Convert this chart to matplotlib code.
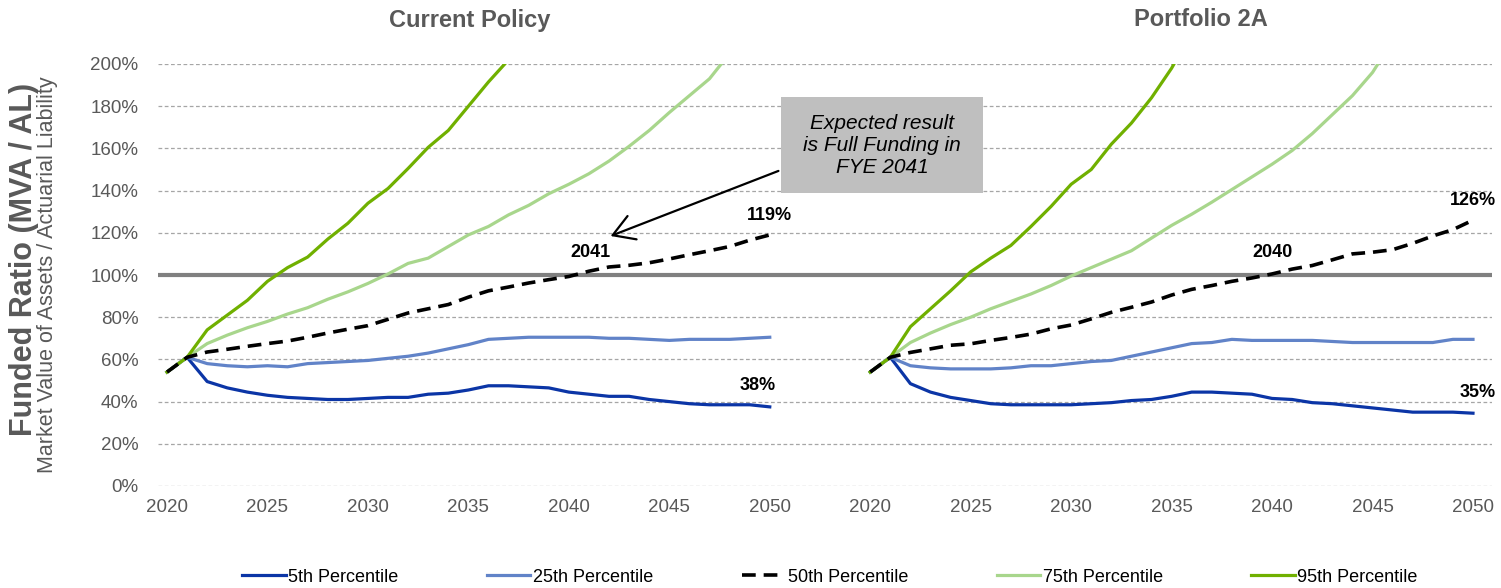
import matplotlib
matplotlib.use("Agg")
import matplotlib.pyplot as plt
from matplotlib.patches import Rectangle

plt.rcParams["font.family"] = ["Liberation Sans", "DejaVu Sans"]

# --- data (funded ratio, %) ---
years = list(range(2020, 2051))
panel_titles = ["Current Policy", "Portfolio 2A"]

cur_p5 = [54, 61, 49.5, 46.5, 44.5, 43, 42, 41.5, 41, 41, 41.5, 42, 42, 43.5, 44, 45.5,
          47.5, 47.5, 47, 46.5, 44.5, 43.5, 42.5, 42.5, 41, 40, 39, 38.5, 38.5, 38.5, 37.5]
cur_p25 = [54, 61, 58, 57, 56.5, 57, 56.5, 58, 58.5, 59, 59.5, 60.5, 61.5, 63, 65, 67,
           69.5, 70, 70.5, 70.5, 70.5, 70.5, 70, 70, 69.5, 69, 69.5, 69.5, 69.5, 70, 70.5]
cur_p50 = [54, 61, 63.5, 64.8, 66.2, 67.5, 68.7, 70.5, 72.5, 74.3, 76, 79, 82, 84, 86, 89.5,
           92.5, 94.3, 96.2, 97.8, 99.3, 101.8, 103.8, 104.6, 105.8, 107.6, 109.6, 111.5,
           113.5, 116.5, 119]
cur_p75 = [54, 61, 67.5, 71.5, 75, 78, 81.5, 84.5, 88.5, 92, 96, 100.5, 105.5, 108, 113.5,
           119, 123, 128.5, 133, 138.5, 143, 148, 154, 161, 168.5, 177, 185, 193, 205]
cur_p95 = [54, 61, 74, 81, 88, 97, 103.5, 108.5, 117, 124.5, 134, 141, 150.5, 160.5, 168.5,
           180, 191.5, 202]

alt_p5 = [54, 61, 48.5, 44.5, 42, 40.5, 39, 38.5, 38.5, 38.5, 38.5, 39, 39.5, 40.5, 41, 42.5,
          44.5, 44.5, 44, 43.5, 41.5, 41, 39.5, 39, 38, 37, 36, 35, 35, 35, 34.5]
alt_p25 = [54, 61, 57, 56, 55.5, 55.5, 55.5, 56, 57, 57, 58, 59, 59.5, 61.5, 63.5, 65.5,
           67.5, 68, 69.5, 69, 69, 69, 69, 68.5, 68, 68, 68, 68, 68, 69.5, 69.5]
alt_p50 = [54, 61, 63.3, 65, 66.7, 67.4, 69, 70.4, 72, 74.5, 76.3, 79.2, 82.3, 84.7, 87.2,
           90.5, 93.2, 95, 97, 98.6, 100.5, 102.8, 104.5, 107.2, 110, 110.8, 112, 115,
           118.5, 121.5, 126]
alt_p75 = [54, 61, 68, 72.5, 76.5, 80, 84, 87.5, 91, 95, 99.5, 103.5, 107.5, 111.5, 117.5,
           123.5, 128.8, 134.5, 140.5, 146.5, 152.5, 159, 167, 176, 185, 196, 211]
alt_p95 = [54, 61, 75.5, 84, 92.5, 101.5, 108, 114, 123, 132.5, 143, 150, 162, 172, 184,
           198, 215]

series_names = ["5th Percentile", "25th Percentile", "50th Percentile",
                "75th Percentile", "95th Percentile"]
current = [cur_p5, cur_p25, cur_p50, cur_p75, cur_p95]
portfolio = [alt_p5, alt_p25, alt_p50, alt_p75, alt_p95]

colors = ["#0B35A6", "#6183C8", "black", "#A8D68C", "#70B000"]
GAP = 35  # category offset of the second panel (31 years + 4 blank slots)
GREY = "#595959"

fig = plt.figure(figsize=(15.01, 5.88), dpi=100)
ax = fig.add_axes([158 / 1501, 1 - 486 / 588, (1492 - 158) / 1501, (486 - 64) / 588])

handles = []
for panel, data in enumerate([current, portfolio]):
    for name, vals, col in zip(series_names, data, colors):
        xs = [y - 2020 + panel * GAP for y in years[:len(vals)]]
        if name.startswith("50th"):
            ln, = ax.plot(xs, vals, color=col, lw=2.6, dashes=(3.8, 2.2), zorder=4)
        else:
            ln, = ax.plot(xs, vals, color=col, lw=2.3, zorder=3)
        if panel == 0:
            handles.append(ln)

ax.axhline(100, color="#808080", lw=3, zorder=2)

ax.set_ylim(0, 200)
ax.set_xlim(-0.448, 65.946)
ax.set_yticks(range(0, 201, 20))
ax.set_yticklabels([f"{v}%" for v in range(0, 201, 20)])
tick_years = list(range(2020, 2051, 5))
ax.set_xticks([y - 2020 for y in tick_years] + [y - 2020 + GAP for y in tick_years])
ax.set_xticklabels([str(y) for y in tick_years] * 2)
ax.tick_params(axis="both", length=0, labelsize=13.5, labelcolor=GREY)
ax.tick_params(axis="y", pad=14)
ax.tick_params(axis="x", pad=9)
ax.grid(axis="y", color="#A6A6A6", lw=0.9, linestyle=(0, (3, 2)), zorder=1)
ax.set_axisbelow(True)
for sp in ax.spines.values():
    sp.set_visible(False)

# panel titles
fig.text(470 / 1501, 1 - 20 / 588, panel_titles[0], ha="center", va="center",
         fontsize=17, fontweight="bold", color=GREY)
fig.text(1201 / 1501, 1 - 20 / 588, panel_titles[1], ha="center", va="center",
         fontsize=17, fontweight="bold", color=GREY)

# y axis titles
fig.text(24 / 1501, 0.558, "Funded Ratio (MVA / AL)", rotation=90, ha="center",
         va="center", fontsize=22, fontweight="bold", color=GREY)
fig.text(48 / 1501, 0.533, "Market Value of Assets / Actuarial Liability", rotation=90,
         ha="center", va="center", fontsize=15.5, color=GREY)

# value labels
lab = dict(ha="center", va="center", fontsize=13, fontweight="bold", color="black", zorder=6)
ax.text(21.05, 110.9, "2041", **lab)
ax.text(30.0, 128.4, "119%", **lab)
ax.text(29.4, 47.4, "38%", **lab)
ax.text(55.0, 110.9, "2040", **lab)
ax.text(65.0, 135.5, "126%", **lab)
ax.text(65.25, 44.5, "35%", **lab)

# callout box
ax.add_patch(Rectangle((30.56, 138.9), 10.06, 45.5, facecolor="#BFBFBF",
                       edgecolor="none", zorder=5))
ax.text(35.59, 161.6, "Expected result\nis Full Funding in\nFYE 2041", ha="center",
        va="center", fontsize=15, style="italic", color="black", linespacing=1.2,
        zorder=6)
ax.annotate("", xy=(21.95, 118.0), xytext=(30.56, 149.8),
            arrowprops=dict(arrowstyle="->,head_length=0.5,head_width=0.3",
                            color="black", lw=1.6, mutation_scale=30), zorder=6)

fig.legend(handles, series_names, loc="center", ncol=5,
           bbox_to_anchor=(830 / 1501, 1 - 577 / 588), frameon=False, fontsize=13,
           handlelength=2.4, handletextpad=0.15, columnspacing=4.9)

fig.savefig("out.png", dpi=100)
